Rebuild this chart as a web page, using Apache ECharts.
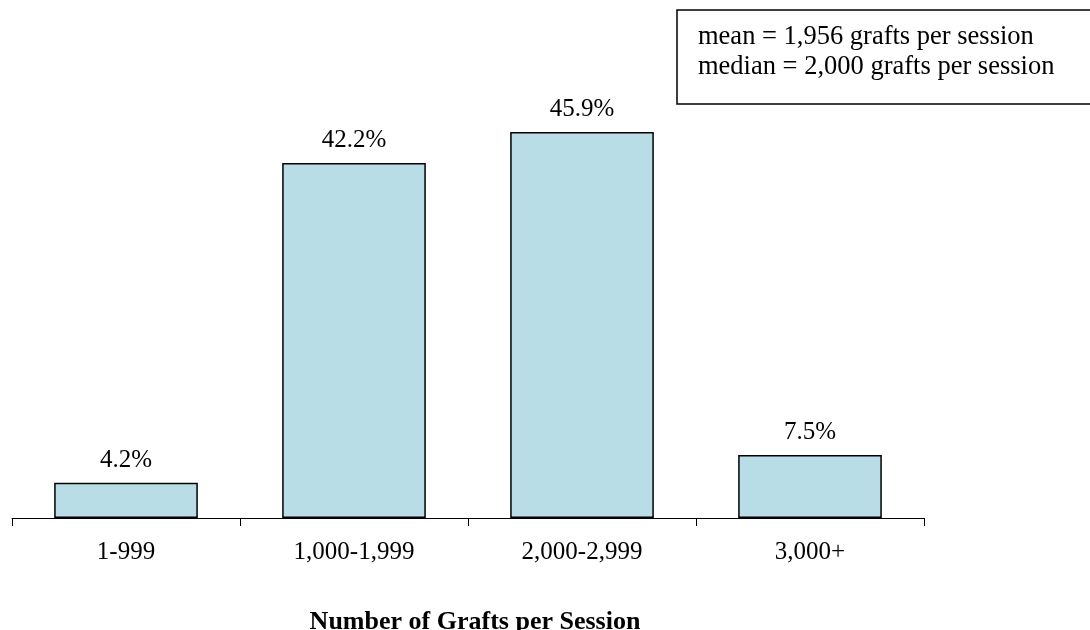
<!DOCTYPE html>
<html>
<head>
<meta charset="utf-8">
<script src="https://cdn.jsdelivr.net/npm/echarts@6/dist/echarts.min.js"></script>
<style>
html,body{margin:0;padding:0;background:#fff;}
#chart{width:1090px;height:630px;}
</style>
</head>
<body>
<div id="chart"></div>
<script>
var categories = ['1-999', '1,000-1,999', '2,000-2,999', '3,000+'];
var percentValues = [4.2, 42.2, 45.9, 7.5];
var statsLines = ['mean = 1,956 grafts per session', 'median = 2,000 grafts per session'];
var axisTitle = 'Number of Grafts per Session';

var FONT = '"Liberation Serif", "Times New Roman", serif';
var chart = echarts.init(document.getElementById('chart'), null, {renderer: 'canvas'});
chart.setOption({
  animation: false,
  backgroundColor: '#ffffff',
  title: {
    text: axisTitle,
    left: 470,
    top: 604,
    textAlign: 'center',
    textStyle: {fontFamily: FONT, fontSize: 26, fontWeight: 'bold', color: '#000'}
  },
  grid: {left: 12, right: 166, top: 97.5, bottom: 112, containLabel: false},
  xAxis: {
    type: 'category',
    data: categories,
    axisLine: {lineStyle: {color: '#000', width: 1}},
    axisTick: {show: true, length: 8, lineStyle: {color: '#000'}},
    axisLabel: {fontFamily: FONT, fontSize: 25, color: '#000', margin: 22}
  },
  yAxis: {
    type: 'value', min: 0, max: 50, show: false,
    splitLine: {show: false}
  },
  series: [{
    type: 'bar',
    data: percentValues,
    barCategoryGap: '37%',
    itemStyle: {color: '#b8dde7', borderColor: '#000', borderWidth: 1.5},
    label: {
      show: true, position: 'top', distance: 10,
      fontFamily: FONT, fontSize: 25, color: '#000',
      formatter: function (p) { return p.value.toFixed(1) + '%'; }
    }
  }],
  graphic: [{
    type: 'group',
    children: [{
      type: 'rect',
      shape: {x: 677, y: 10, width: 420, height: 94},
      style: {fill: '#fff', stroke: '#000', lineWidth: 1.5}
    }, {
      type: 'text',
      x: 698, y: 22,
      style: {
        text: statsLines.join('\n'),
        font: '26.5px ' + FONT,
        lineHeight: 30,
        fill: '#000'
      }
    }]
  }]
});
</script>
</body>
</html>
